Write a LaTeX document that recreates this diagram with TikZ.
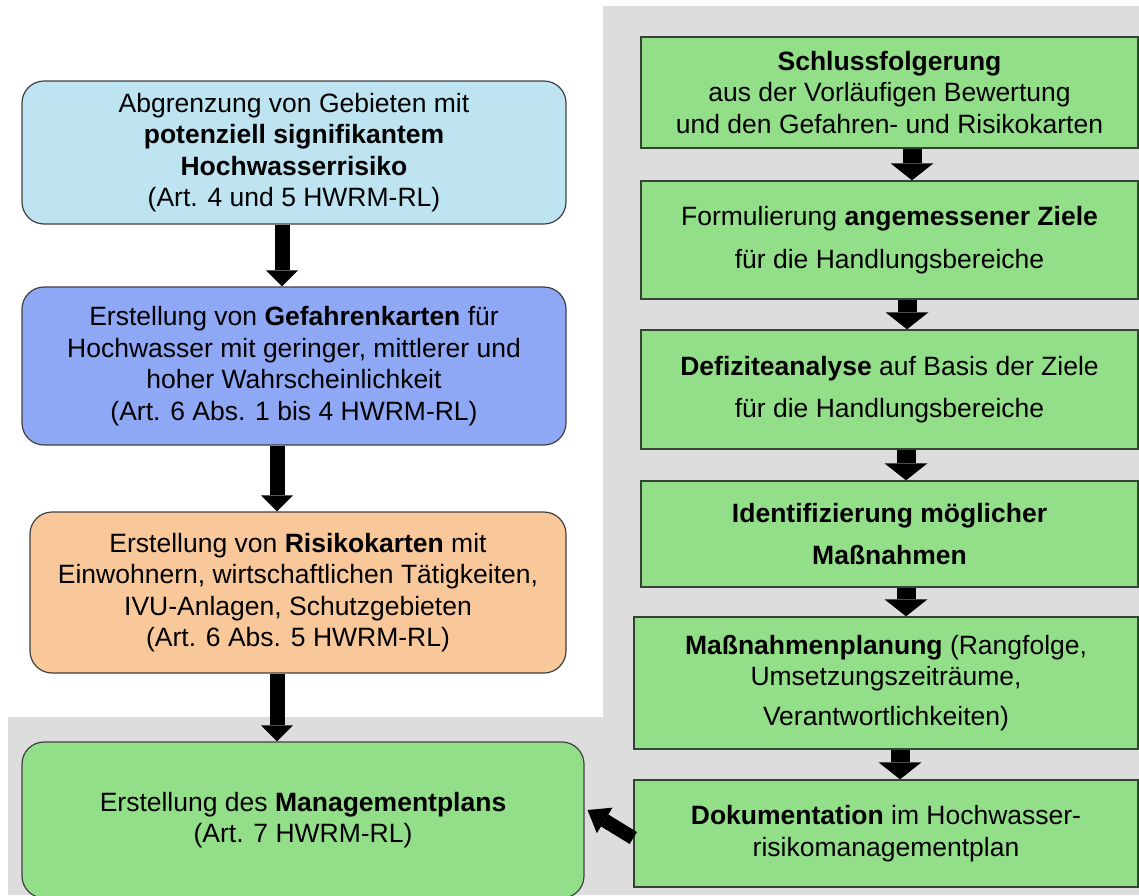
\documentclass[tikz,border=0pt]{standalone}
\usepackage{fontspec}
\setmainfont{Liberation Sans}
\usepackage{tikz}
\usetikzlibrary{arrows.meta}

\definecolor{bggray}{RGB}{221,221,221}
\definecolor{boxgreen}{RGB}{147,222,136}
\definecolor{boxlightblue}{RGB}{190,227,241}
\definecolor{boxblue}{RGB}{143,168,246}
\definecolor{boxorange}{RGB}{248,200,154}
\definecolor{rimgreen}{RGB}{52,68,50}

\tikzset{
	lbox/.style={draw=black!75, line width=1.2pt, rounded corners=22pt, align=center, inner sep=0pt, font=\fontsize{26.5}{31.5}\selectfont},
	rbox/.style={draw=rimgreen, line width=1.4pt, fill=boxgreen, align=center, inner sep=0pt, font=\fontsize{26.5}{31.5}\selectfont},
	larrow/.style={line width=15pt, -{Triangle[width=32pt,length=16pt,line width=0pt]}},
	rarrow/.style={line width=19pt, -{Triangle[width=43pt,length=17pt,line width=0pt]}},
	darrow/.style={line width=14pt, -{Triangle[width=30pt,length=20pt,line width=0pt]}}
}

\begin{document}
\begin{tikzpicture}[x=1pt, y=-1pt]
	\useasboundingbox (0,0) rectangle (1139,895);
	% grauer Hintergrund
	\fill[bggray] (603,6) -- (1139,6) -- (1139,895) -- (8,895) -- (8,717) -- (603,717) -- cycle;

	% linke Spalte
	\node[lbox, fill=boxlightblue, minimum width=544, minimum height=143] (gebiete) at (294,152.5)
		{Abgrenzung von Gebieten mit\\ \textbf{potenziell signifikantem}\\ \textbf{Hochwasserrisiko}\\ (Art. 4 und 5 HWRM-RL)};
	\node[lbox, fill=boxblue, minimum width=544, minimum height=158] (gefahr) at (294,366)
		{Erstellung von \textbf{Gefahrenkarten} für\\ Hochwasser mit geringer, mittlerer und\\ hoher Wahrscheinlichkeit\\ (Art. 6 Abs. 1 bis 4 HWRM-RL)};
	\node[lbox, fill=boxorange, minimum width=536, minimum height=161] (risiko) at (298,592.5)
		{Erstellung von \textbf{Risikokarten} mit\\ Einwohnern, wirtschaftlichen Tätigkeiten,\\ IVU-Anlagen, Schutzgebieten\\ (Art. 6 Abs. 5 HWRM-RL)};
	\node[lbox, fill=boxgreen, minimum width=562, minimum height=156] (plan) at (303,820)
		{Erstellung des \textbf{Managementplans}\\ (Art. 7 HWRM-RL)};

	% rechte Spalte
	\node[rbox, minimum width=497, minimum height=111] (schluss) at (889.5,92.5)
		{\textbf{Schlussfolgerung}\\ aus der Vorläufigen Bewertung\\ und den Gefahren- und Risikokarten};
	\node[rbox, minimum width=497, minimum height=118] (ziele) at (889.5,240)
		{Formulierung \textbf{angemessener Ziele}\\[11pt] für die Handlungsbereiche};
	\node[rbox, minimum width=497, minimum height=119] (defizit) at (889.5,389.5)
		{\textbf{Defiziteanalyse} auf Basis der Ziele\\[11pt] für die Handlungsbereiche};
	\node[rbox, minimum width=497, minimum height=106] (moeglich) at (889.5,534)
		{\textbf{Identifizierung möglicher}\\[11pt] \textbf{Maßnahmen}};
	\node[rbox, minimum width=504, minimum height=132] (planung) at (886,683)
		{\textbf{Maßnahmenplanung} (Rangfolge,\\ Umsetzungszeiträume,\\[8pt] Verantwortlichkeiten)};
	\node[rbox, minimum width=504, minimum height=107] (doku) at (886,833.5)
		{\textbf{Dokumentation} im Hochwasser-\\ risikomanagementplan};

	% Pfeile
	\draw[larrow] ([xshift=-12]gebiete.south) -- ([xshift=-12]gefahr.north);
	\draw[larrow] ([xshift=-17]gefahr.south) -- ([xshift=-17]gefahr.south |- risiko.north);
	\draw[larrow] ([xshift=-21]risiko.south) -- ([xshift=-21]risiko.south |- plan.north);
	\draw[rarrow] ([xshift=22.5]schluss.south) -- ([xshift=22.5]ziele.north);
	\draw[rarrow] ([xshift=17.5]ziele.south) -- ([xshift=17.5]defizit.north);
	\draw[rarrow] ([xshift=16.5]defizit.south) -- ([xshift=16.5]moeglich.north);
	\draw[rarrow] ([xshift=16.5]moeglich.south) -- ([xshift=16.5]moeglich.south |- planung.north);
	\draw[rarrow] ([xshift=14]planung.south) -- ([xshift=14]doku.north);
	\draw[darrow] ([yshift=-4.5]doku.west) -- ([xshift=3,yshift=10]plan.east);
\end{tikzpicture}
\end{document}
